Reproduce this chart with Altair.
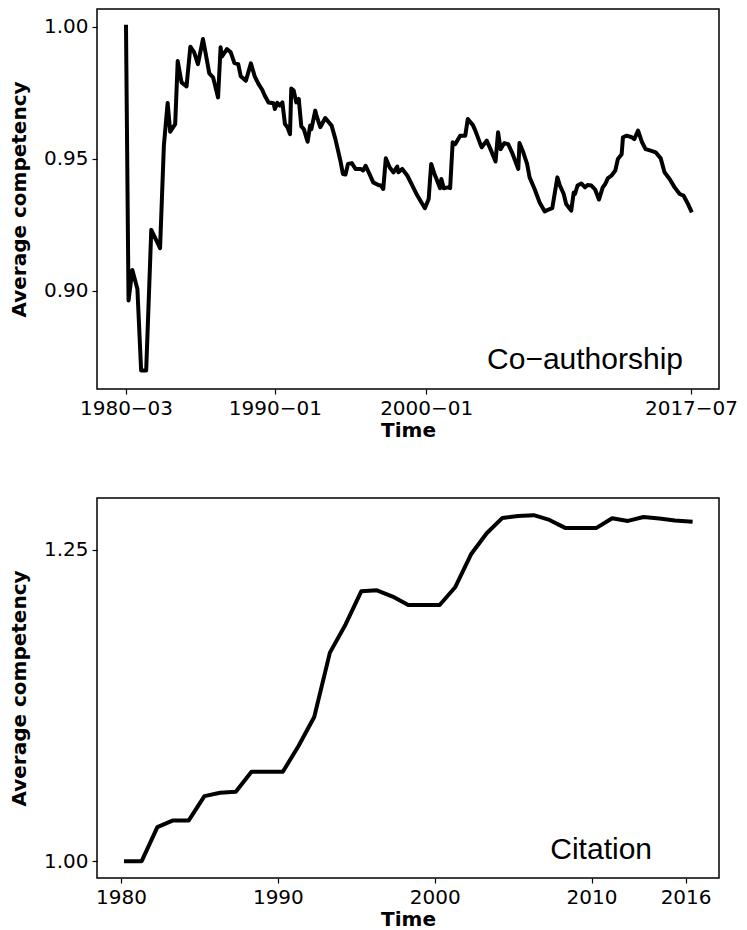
import altair as alt
import pandas as pd

# ---- Co-authorship (top panel) ----
co_dates = [
    "1980-03", "1980-05", "1980-08", "1980-12", "1981-03", "1981-07", "1981-11",
    "1982-06", "1982-09", "1982-12", "1983-02", "1983-06", "1983-08", "1983-11",
    "1984-03", "1984-06", "1984-09", "1984-12", "1985-04", "1985-06", "1985-09",
    "1985-12", "1986-04", "1986-06", "1986-07", "1986-11", "1987-02", "1987-05",
    "1987-08", "1987-10", "1988-02", "1988-06", "1988-09", "1988-12", "1989-03",
    "1989-05", "1989-08", "1989-12", "1990-01", "1990-03", "1990-05", "1990-07",
    "1990-09", "1990-11", "1991-01", "1991-02", "1991-04", "1991-06", "1991-08",
    "1991-10", "1991-12", "1992-03", "1992-05", "1992-06", "1992-09", "1992-10",
    "1993-01", "1993-05", "1993-10", "1994-01", "1994-05", "1994-07", "1994-09",
    "1994-11", "1995-02", "1995-05", "1995-09", "1995-11", "1996-01", "1996-04",
    "1996-07", "1996-11", "1997-01", "1997-03", "1997-05", "1997-08", "1997-11",
    "1998-02", "1998-03", "1998-06", "1998-10", "1999-02", "1999-06", "1999-10",
    "1999-12", "2000-03", "2000-04", "2000-05", "2000-08", "2000-09", "2000-12",
    "2001-01", "2001-03", "2001-06", "2001-08", "2001-10", "2001-12", "2002-04",
    "2002-08", "2002-10", "2003-02", "2003-04", "2003-08", "2003-09", "2004-01",
    "2004-04", "2004-08", "2004-10", "2004-12", "2005-03", "2005-06", "2005-09",
    "2006-02", "2006-03", "2006-06", "2006-09", "2006-11", "2007-03", "2007-07",
    "2007-11", "2008-02", "2008-05", "2008-09", "2008-11", "2009-02", "2009-04",
    "2009-08", "2009-10", "2009-11", "2010-01", "2010-04", "2010-07", "2010-09",
    "2010-12", "2011-03", "2011-06", "2011-09", "2011-11", "2012-01", "2012-04",
    "2012-07", "2012-09", "2012-12", "2013-01", "2013-04", "2013-08", "2013-10",
    "2014-01", "2014-04", "2014-07", "2014-11", "2015-03", "2015-07", "2015-10",
    "2016-02", "2016-06", "2016-10", "2017-01", "2017-04", "2017-07",
]
co_values = [
    1.000, 0.8962, 0.9078, 0.9006, 0.8697, 0.8697, 0.9230,
    0.9161, 0.9549, 0.9711, 0.9602, 0.9631, 0.9870, 0.9789,
    0.9774, 0.9924, 0.9903, 0.9858, 0.9953, 0.9903, 0.9823,
    0.9808, 0.9732, 0.9922, 0.9886, 0.9915, 0.9903, 0.9862,
    0.9858, 0.9812, 0.9795, 0.9861, 0.9812, 0.9783, 0.9761,
    0.9739, 0.9713, 0.9710, 0.9688, 0.9711, 0.9701, 0.9713,
    0.9631, 0.9619, 0.9593, 0.9766, 0.9758, 0.9713, 0.9726,
    0.9622, 0.9612, 0.9564, 0.9625, 0.9612, 0.9682, 0.9663,
    0.9619, 0.9654, 0.9625, 0.9574, 0.9492, 0.9442, 0.9440,
    0.9480, 0.9483, 0.9461, 0.9461, 0.9455, 0.9473, 0.9442,
    0.9410, 0.9400, 0.9398, 0.9385, 0.9501, 0.9467, 0.9448,
    0.9470, 0.9448, 0.9461, 0.9436, 0.9398, 0.9360, 0.9328,
    0.9312, 0.9347, 0.9417, 0.9480, 0.9436, 0.9425, 0.9388,
    0.9423, 0.9388, 0.9391, 0.9388, 0.9562, 0.9555, 0.9587,
    0.9587, 0.9650, 0.9627, 0.9606, 0.9555, 0.9543, 0.9568,
    0.9536, 0.9489, 0.9600, 0.9536, 0.9559, 0.9555, 0.9524,
    0.9461, 0.9559, 0.9524, 0.9480, 0.9429, 0.9385, 0.9334,
    0.9300, 0.9307, 0.9312, 0.9429, 0.9398, 0.9366, 0.9328,
    0.9303, 0.9372, 0.9366, 0.9398, 0.9406, 0.9391, 0.9400,
    0.9398, 0.9383, 0.9345, 0.9391, 0.9404, 0.9425, 0.9436,
    0.9455, 0.9499, 0.9517, 0.9581, 0.9587, 0.9581, 0.9574,
    0.9606, 0.9564, 0.9536, 0.9530, 0.9524, 0.9501, 0.9448,
    0.9423, 0.9391, 0.9366, 0.9360, 0.9334, 0.9303,
]

# ---- Citation (bottom panel) ----
cit_years = list(range(1980, 2017))
cit_values = [
    1.000, 1.000, 1.0273, 1.0327, 1.0327, 1.0522, 1.0549, 1.0557, 1.0718, 1.0718,
    1.0718, 1.0924, 1.1157, 1.1674, 1.1900, 1.2166, 1.2174, 1.2124, 1.2056, 1.2056,
    1.2056, 1.2201, 1.2463, 1.2632, 1.2755, 1.2771, 1.2777, 1.2739, 1.2675, 1.2675,
    1.2675, 1.2753, 1.2731, 1.2763, 1.2750, 1.2734, 1.2726,
]

co_df = pd.DataFrame({"date": [d + "-01" for d in co_dates], "value": co_values})
cit_df = pd.DataFrame({"date": [f"{y}-04-27" for y in cit_years], "value": cit_values})

W, H = 622, 380
FONT = "DejaVu Sans"
LABEL_SIZE = 20

def x_axis(values, fmt):
    return alt.Axis(
        values=values, labelExpr="utcFormat(datum.value, '%s')" % fmt, title="Time",
        titleFont=FONT, titleFontSize=LABEL_SIZE, titleFontWeight="bold", titleColor="black",
        labelFont=FONT, labelFontSize=LABEL_SIZE, labelColor="black", labelPadding=4,
        labelFlush=False, labelOverlap=False,
        tickSize=5, tickColor="black", tickWidth=1.2, domain=False, grid=False, titlePadding=2,
    )

def y_axis(values):
    return alt.Axis(
        values=values, format=".2f", title="Average competency",
        titleFont=FONT, titleFontSize=LABEL_SIZE, titleFontWeight="bold", titleColor="black",
        labelFont=FONT, labelFontSize=LABEL_SIZE, labelColor="black", labelPadding=4,
        tickSize=5, tickColor="black", tickWidth=1.2, domain=False, grid=False, titlePadding=14,
    )

top_line = alt.Chart(co_df).mark_line(
    color="black", strokeWidth=4, strokeJoin="round", strokeCap="square"
).encode(
    x=alt.X("date:T", scale=alt.Scale(type="utc", domain=[
        alt.DateTime(year=1978, month=4, date=1, utc=True),
        alt.DateTime(year=2019, month=5, date=8, utc=True)], nice=False),
        axis=x_axis([
            alt.DateTime(year=1980, month=3, date=1, utc=True),
            alt.DateTime(year=1990, month=1, date=1, utc=True),
            alt.DateTime(year=2000, month=1, date=1, utc=True),
            alt.DateTime(year=2017, month=7, date=1, utc=True)], "%Y\u2212%m")),
    y=alt.Y("value:Q", scale=alt.Scale(domain=[0.8627, 1.0067], nice=False, zero=False),
            axis=y_axis([0.90, 0.95, 1.00])),
)
top_text = alt.Chart(pd.DataFrame({"label": ["Co\u2212authorship"]})).mark_text(
    font="Liberation Sans", fontSize=30, align="right", baseline="alphabetic", color="black"
).encode(x=alt.value(586), y=alt.value(360), text="label:N")
top = alt.layer(top_line, top_text).properties(width=W, height=H)

bot_line = alt.Chart(cit_df).mark_line(
    color="black", strokeWidth=4, strokeJoin="round", strokeCap="square"
).encode(
    x=alt.X("date:T", scale=alt.Scale(type="utc", domain=[
        alt.DateTime(year=1978, month=6, date=21, utc=True),
        alt.DateTime(year=2018, month=2, date=17, utc=True)], nice=False),
        axis=x_axis([alt.DateTime(year=y, month=1, date=1, utc=True)
                     for y in [1980, 1990, 2000, 2010, 2016]], "%Y")),
    y=alt.Y("value:Q", scale=alt.Scale(domain=[0.9865, 1.2915], nice=False, zero=False),
            axis=y_axis([1.00, 1.25])),
)
bot_text = alt.Chart(pd.DataFrame({"label": ["Citation"]})).mark_text(
    font="Liberation Sans", fontSize=30, align="right", baseline="alphabetic", color="black"
).encode(x=alt.value(555), y=alt.value(361), text="label:N")
bottom = alt.layer(bot_line, bot_text).properties(width=W, height=H)

chart = alt.vconcat(top, bottom, spacing=56).properties(
    padding={"left": 0, "top": 0, "right": 0, "bottom": 0},
    background="white",
).configure_view(stroke="black", strokeWidth=1.5)

chart.save("out.html", embed_options={"renderer": "svg", "actions": False})
